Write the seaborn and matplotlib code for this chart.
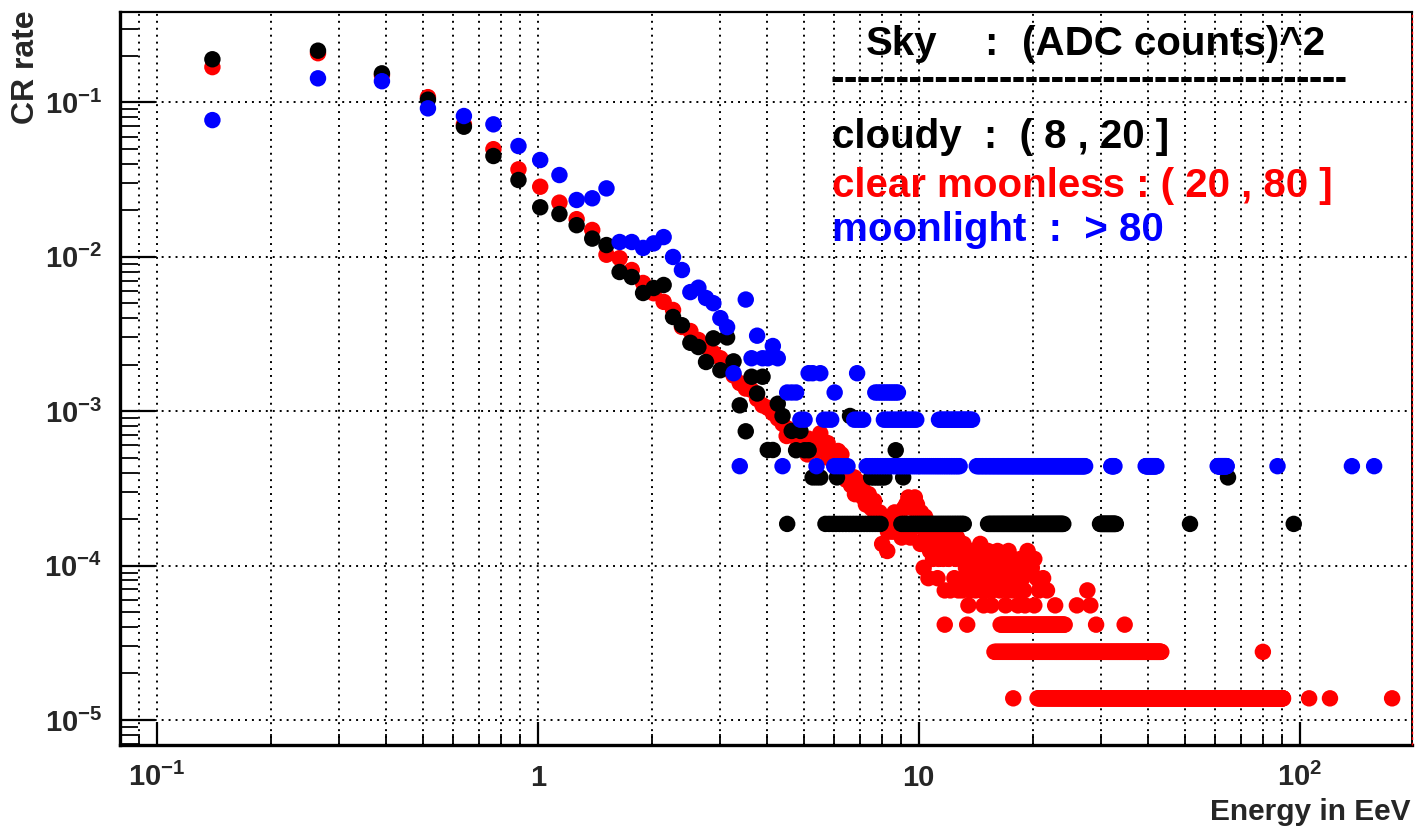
import numpy as np
import pandas as pd
import matplotlib
matplotlib.use("Agg")
import matplotlib.pyplot as plt
import seaborn as sns
from matplotlib.lines import Line2D
from matplotlib.ticker import FixedLocator, FixedFormatter, NullFormatter

# ---------------------------------------------------------------- data
# histogram bin centres (EeV) of the low-energy part
energy_bins = [0.14, 0.265, 0.39, 0.515, 0.64, 0.765, 0.89, 1.015, 1.14, 1.265,
               1.39, 1.515, 1.64, 1.765, 1.89, 2.015, 2.14, 2.265, 2.39, 2.515,
               2.64, 2.765, 2.89, 3.015, 3.14, 3.265, 3.39, 3.515, 3.64, 3.765,
               3.89, 4.015, 4.14]

red_rate = [0.169, 0.208, 0.150, 0.108, 0.072, 0.0497, 0.0368, 0.0284, 0.0224, 0.0175,
            0.0149, 0.0103, 0.00978, 0.0082, 0.00676, 0.0058, 0.0051, 0.00452, 0.00351, 0.0033,
            0.00289, 0.0026, 0.00238, 0.0022, 0.00205, 0.0017, 0.00152, 0.0014, 0.00137, 0.0012,
            0.00109, 0.00105, 0.00097]
black_rate = [0.190, 0.216, 0.154, 0.104, 0.0695, 0.0449, 0.0314, 0.0209, 0.0189, 0.016,
              0.0131, 0.0119, 0.00796, 0.00739, 0.00582, 0.00627, 0.00656, 0.00407, 0.0036, 0.00277,
              0.0026, 0.00208, 0.00296, 0.00184, 0.0030, 0.0021, 0.00109, 0.00074, 0.00167, 0.0013,
              0.00167, 0.00056, 0.00056]
blue_rate = [0.0767, 0.143, 0.137, 0.0914, 0.0815, 0.072, 0.0521, 0.0423, 0.0338, 0.0233,
             0.0239, 0.0277, 0.01245, 0.01245, 0.0114, 0.0122, 0.0134, 0.00996, 0.0082, 0.0059,
             0.0063, 0.0054, 0.0050, 0.0040, 0.0035]

# rate of a single event in each sample
RED_UNIT = 1.38e-5
BLACK_UNIT = 1.86e-4
BLUE_UNIT = 4.4e-4
BIN_WIDTH = 0.125

# high-energy points given as (energy, number of events)
red_tail_energy = [4.265, 4.39, 4.515, 4.64, 4.765, 4.89, 5.015, 5.14, 5.265, 5.39,
                   5.515, 5.64, 5.765, 5.89, 6.015, 6.14, 6.265, 6.39, 6.515, 6.64,
                   6.765, 6.89, 7.015, 7.14, 7.265, 7.39, 7.515, 7.64, 7.765, 7.89,
                   8.015, 8.14, 8.265, 8.39, 8.515, 8.64, 8.765, 8.89, 9.015, 9.14,
                   9.265, 9.39, 9.515, 9.64, 9.765, 9.89, 10.015, 10.14, 10.265, 10.39,
                   10.515, 10.64, 10.765, 10.89, 11.015, 11.14, 11.265, 11.39]
red_tail_counts = [65, 60, 56, 52, 50, 47, 44, 48, 42, 46,
                   52, 40, 45, 36, 33, 40, 38, 30, 28, 24,
                   27, 22, 25, 20, 18, 21, 17, 19, 15, 16,
                   10, 14, 9, 15, 12, 16, 13, 15, 11, 17,
                   18, 20, 19, 17, 20, 18, 14, 16, 13, 15,
                   11, 12, 10, 11, 9, 10, 8, 9]
red_cluster_energy = [4.5, 4.8, 5.1, 5.45, 5.8, 6.1, 6.45, 6.8, 7.1, 7.4, 7.7, 8.3,
                      9.2, 9.5, 9.8, 10.1, 10.4, 10.7, 11.0, 11.3,
                      10.3, 10.6, 10.9, 11.2, 11.5, 11.6, 11.7, 11.8, 11.9, 12.0, 12.1, 12.2,
                      12.3, 12.4, 12.5, 12.6, 12.7, 12.8, 12.9, 13.0, 13.1, 13.2, 13.3,
                      13.4, 13.5, 13.6, 13.7, 13.8, 13.9, 14.0, 14.1, 14.2, 14.3, 14.4,
                      14.5, 14.6, 14.7, 14.8, 14.9, 15.0, 15.2, 15.3, 15.5, 15.6, 15.8,
                      16.0, 16.1, 16.3, 16.5, 16.7, 16.8, 17.0, 17.2, 17.4, 17.6, 17.7,
                      17.9, 18.1, 18.3, 18.5, 18.7, 18.9, 19.1, 19.3, 19.6, 19.8, 20.1,
                      20.4, 20.7, 21.2, 13.5, 14.8, 15.5, 16.9, 18.2, 19.0]
red_cluster_counts = [50, 42, 38, 40, 36, 32, 26, 21, 23, 18, 15, 12,
                      12, 11, 13, 10, 12, 9, 12, 10,
                      7, 6, 8, 6, 10, 8, 5, 9, 11, 8, 5, 10,
                      9, 6, 8, 11, 5, 9, 8, 5, 10, 6, 7,
                      8, 6, 5, 9, 7, 8, 6, 5, 9, 7, 6,
                      10, 5, 8, 6, 7, 5, 9, 6, 8, 5, 7,
                      6, 9, 5, 8, 6, 7, 5, 9, 6, 5, 8,
                      7, 6, 5, 8, 6, 5, 7, 9, 7, 7, 8,
                      6, 5, 6, 4, 4, 4, 4, 4, 4]
red_single_energy = [11.7, 13.4, 17.7, 20.1, 21.7, 22.8, 26.0, 27.7, 28.2, 29.2, 34.7, 80.0, 105.8, 120.0, 174.7]
red_single_counts = [3, 3, 1, 4, 5, 4, 4, 5, 4, 3, 3, 2, 1, 1, 1]
red_run_start = [15.8, 16.4, 20.5]
red_run_end = [43.3, 24.2, 90.4]
red_run_counts = [2, 3, 1]

black_tail_energy = [4.265, 4.39, 4.515, 4.64, 4.765, 4.89, 5.015, 5.14, 5.265, 5.39,
                     5.515, 6.6, 8.7, 9.1, 51.5, 64.8, 96.4]
black_tail_counts = [6, 5, 1, 4, 3, 4, 3, 3, 2, 2,
                     2, 5, 3, 2, 1, 2, 1]
black_run_start = [5.69, 9.0, 15.2, 29.9, 6.1, 7.5]
black_run_end = [7.97, 13.2, 24.0, 32.9, 6.2, 8.2]
black_run_counts = [1, 1, 1, 1, 2, 2]

blue_tail_energy = [3.265, 3.39, 3.515, 3.64, 3.765, 3.89, 4.015, 4.14, 4.265, 4.39,
                    4.515, 4.64, 4.765, 4.89, 5.015, 5.14, 5.265, 5.39, 5.515, 5.64,
                    5.765, 5.89, 6.015, 6.89, 87.4, 137.0, 156.7]
blue_tail_counts = [4, 1, 12, 5, 7, 5, 5, 6, 5, 1,
                    3, 3, 3, 2, 2, 4, 4, 1, 4, 2,
                    2, 2, 3, 4, 1, 1, 1]
blue_run_start = [6.0, 7.3, 14.2, 32.0, 39.4, 60.9, 6.77, 8.1, 11.3, 7.69]
blue_run_end = [6.6, 12.8, 27.4, 32.7, 42.1, 64.3, 7.22, 9.97, 13.9, 8.82]
blue_run_counts = [1, 1, 1, 1, 1, 1, 2, 2, 2, 3]

SERIES = ["clear moonless", "cloudy", "moonlight"]
COLORS = {"clear moonless": "#ff0000", "cloudy": "#000000", "moonlight": "#0000ff"}


def build(name, low_rate, tail_e, tail_n, run_lo, run_hi, run_n, unit, extra=()):
    e = list(energy_bins[:len(low_rate)])
    r = list(low_rate)
    e += list(tail_e)
    r += [n * unit for n in tail_n]
    for ee, nn in extra:
        e += list(ee)
        r += [n * unit for n in nn]
    for lo, hi, n in zip(run_lo, run_hi, run_n):
        pts = np.arange(lo, hi + 1e-9, BIN_WIDTH)
        e += list(pts)
        r += [n * unit] * len(pts)
    return pd.DataFrame({"energy": e, "rate": r, "sky": name})


df = pd.concat([
    build("clear moonless", red_rate, red_tail_energy, red_tail_counts,
          red_run_start, red_run_end, red_run_counts, RED_UNIT,
          extra=[(red_cluster_energy, red_cluster_counts), (red_single_energy, red_single_counts)]),
    build("cloudy", black_rate, black_tail_energy, black_tail_counts,
          black_run_start, black_run_end, black_run_counts, BLACK_UNIT),
    build("moonlight", blue_rate, blue_tail_energy, blue_tail_counts,
          blue_run_start, blue_run_end, blue_run_counts, BLUE_UNIT),
], ignore_index=True)

# ---------------------------------------------------------------- style
sns.set_style("white")
plt.rcParams["font.family"] = ["Liberation Sans", "DejaVu Sans"]
plt.rcParams["font.weight"] = "bold"
plt.rcParams["mathtext.fontset"] = "custom"
plt.rcParams["mathtext.rm"] = "Liberation Sans:bold"
plt.rcParams["mathtext.bf"] = "Liberation Sans:bold"
plt.rcParams["mathtext.it"] = "Liberation Sans:bold"
plt.rcParams["mathtext.sf"] = "Liberation Sans:bold"
plt.rcParams["lines.scale_dashes"] = False

W, H = 1418, 827
fig = plt.figure(figsize=(W / 100, H / 100), dpi=100)
fig.patch.set_facecolor("white")
L, R, T, B = 120, 1412, 12, 745
ax = fig.add_axes([L / W, 1 - B / H, (R - L) / W, (B - T) / H])
ax.set_xscale("log")
ax.set_yscale("log")

sns.scatterplot(data=df, x="energy", y="rate", hue="sky", hue_order=SERIES,
                palette=COLORS, s=140, linewidth=0, marker="o", legend=False, ax=ax,
                zorder=3)

ax.set_xlim(0.0801, 197)
ax.set_ylim(6.88e-6, 0.3845)
ax.set_xlabel("")
ax.set_ylabel("")

ax.xaxis.set_major_locator(FixedLocator([0.1, 1, 10, 100]))
ax.xaxis.set_major_formatter(FixedFormatter([r"$10^{-1}$", "1", "10", r"$10^{2}$"]))
xminor = [0.09] + [m * 10.0 ** e for e in (-1, 0, 1) for m in range(2, 10)]
ax.xaxis.set_minor_locator(FixedLocator(xminor))
ax.xaxis.set_minor_formatter(NullFormatter())

ax.yaxis.set_major_locator(FixedLocator([1e-5, 1e-4, 1e-3, 1e-2, 1e-1]))
ax.yaxis.set_major_formatter(FixedFormatter([r"$10^{-5}$", r"$10^{-4}$", r"$10^{-3}$",
                                             r"$10^{-2}$", r"$10^{-1}$"]))
yminor = [m * 10.0 ** e for e in range(-6, 0) for m in range(2, 10)]
ax.yaxis.set_minor_locator(FixedLocator(yminor))
ax.yaxis.set_minor_formatter(NullFormatter())

grid_ls = (0, (1.4, 3.6))
ax.grid(True, which="both", axis="x", color="black", linestyle=grid_ls, linewidth=1.4)
ax.grid(True, which="major", axis="y", color="black", linestyle=grid_ls, linewidth=1.4)
ax.set_axisbelow(True)

ax.tick_params(axis="y", which="major", direction="in", length=25, width=1.6,
               left=True, right=False, labelsize=21, pad=13, color="black")
ax.tick_params(axis="y", which="minor", direction="in", length=13, width=1.3,
               left=True, right=False, color="black")
ax.tick_params(axis="x", which="major", direction="in", length=16.5, width=1.6,
               bottom=True, top=False, labelsize=21, pad=29.5, color="black")
ax.tick_params(axis="x", which="minor", direction="in", length=8, width=1.3,
               bottom=True, top=False, color="black")
for lbl in ax.get_xticklabels():
    lbl.set_verticalalignment("baseline")

for side, lw in (("left", 2.4), ("bottom", 2.4), ("top", 1.6), ("right", 1.4)):
    ax.spines[side].set_visible(True)
    ax.spines[side].set_linewidth(lw)
    ax.spines[side].set_color("black")

# faint red dashes along the right frame, as in the reference
fig.add_artist(Line2D([1411.5 / W, 1411.5 / W], [1 - B / H, 1 - T / H],
                      transform=fig.transFigure, color="#ff0000", lw=1.0,
                      linestyle=(0, (2, 2))))

# axis titles
fig.text(26 / W, 1 - 10 / H, "CR rate", rotation=90, ha="center", va="top",
         fontsize=23, fontweight="bold")
fig.text(1411 / W, 1 - 820 / H, "Energy in EeV", ha="right", va="baseline",
         fontsize=21.5, fontweight="bold")

# legend block
fs = 29
fig.text(866 / W, 1 - 55 / H, "Sky", fontsize=fs, fontweight="bold", color="black")
fig.text(984 / W, 1 - 55 / H, ":", fontsize=fs, fontweight="bold", color="black")
fig.text(1022 / W, 1 - 55 / H, "(ADC counts)^2", fontsize=fs, fontweight="bold", color="black")
fig.add_artist(Line2D([832 / W, 1345 / W], [1 - 79 / H, 1 - 79 / H],
                      transform=fig.transFigure, color="black", lw=3.6,
                      linestyle=(0, (7.5, 1.8))))
fig.text(832 / W, 1 - 148 / H, "cloudy  :  ( 8 , 20 ]", fontsize=fs,
         fontweight="bold", color="black")
fig.text(832 / W, 1 - 197 / H, "clear moonless : ( 20 , 80 ]", fontsize=fs,
         fontweight="bold", color="#ff0000")
fig.text(832 / W, 1 - 241 / H, "moonlight  :  > 80", fontsize=fs,
         fontweight="bold", color="#0000ff")

fig.savefig("out.png", dpi=100, facecolor="white")
